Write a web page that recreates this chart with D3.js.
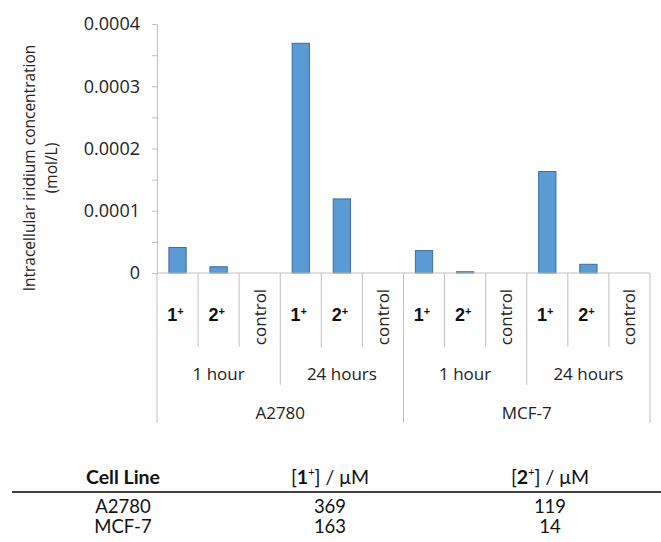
<!DOCTYPE html>
<html>
<head>
<meta charset="utf-8">
<script src="https://cdn.jsdelivr.net/npm/d3@7"></script>
<style>
  body { margin: 0; background: #fff; }
</style>
</head>
<body>
<script>
'use strict';

// chart data
const cellLines = ["A2780", "MCF-7"];
const times = ["1 hour", "24 hours"];
const compounds = ["1", "2", "control"];
const a2780Values = [4.1e-5, 1.0e-5, 0, 3.69e-4, 1.19e-4, 0];
const mcf7Values = [3.6e-5, 2e-6, 0, 1.63e-4, 1.4e-5, 0];
const yTicks = [0, 0.0001, 0.0002, 0.0003, 0.0004];

// table data
const tableHeaders = ["Cell Line", "1", "2"];
const tableCellLines = ["A2780", "MCF-7"];
const conc1 = [369, 163];
const conc2 = [119, 14];

const axisColor = "#bfbfbf";
const tickFont = "'Open Sans', sans-serif";

let svg = d3.select("body").append("svg")
  .attr("width", 661)
  .attr("height", 542);

// build flat list of bars
let rows = [];
cellLines.forEach((cl, ci) => {
  let vals = ci === 0 ? a2780Values : mcf7Values;
  times.forEach((t, ti) => {
    compounds.forEach((c, k) => {
      rows.push({ key: cl + "|" + t + "|" + c, cell: cl, time: t, comp: c, value: vals[ti * 3 + k] });
    });
  });
});

let axisY = 273;
let x = d3.scaleBand()
  .domain(rows.map(d => d.key))
  .range([157, 650]);

let bx = d3.scaleBand()
  .domain(rows.map(d => d.key))
  .range([157, 650])
  .paddingInner(0.58)
  .paddingOuter(0.29);

let y = d3.scaleLinear()
  .domain([0, 0.0004])
  .range([axisY, 24]);

// y axis with major and minor ticks
let minor = yTicks.slice(1).map(t => t - 0.00005);
svg.append("g")
  .attr("transform", "translate(157,0)")
  .call(d3.axisLeft(y).tickValues(minor).tickSize(5).tickFormat(""))
  .call(g => g.select(".domain").remove())
  .call(g => g.selectAll("line").attr("stroke", axisColor));

let yAxis = svg.append("g")
  .attr("transform", "translate(157,0)")
  .call(d3.axisLeft(y).tickValues(yTicks).tickSize(5).tickPadding(12)
    .tickFormat(d => d === 0 ? "0" : d3.format(".4f")(d)));
yAxis.select(".domain").attr("stroke", axisColor);
yAxis.selectAll("line").attr("stroke", axisColor);
yAxis.selectAll("text")
  .style("font-family", tickFont)
  .style("font-size", "18px")
  .attr("fill", "#222");

// bars
svg.selectAll(".bar")
  .data(rows)
  .enter()
  .append("rect")
    .attr("class", "bar")
    .attr("x", d => bx(d.key))
    .attr("width", bx.bandwidth())
    .attr("y", d => y(d.value))
    .attr("height", d => axisY - y(d.value))
    .attr("fill", "#5b9bd5")
    .attr("stroke", "#3b6c99")
    .attr("stroke-width", 1)
    .style("display", d => d.value > 0 ? null : "none");

// x axis line
svg.append("line")
  .attr("x1", 157).attr("x2", 650)
  .attr("y1", axisY).attr("y2", axisY)
  .attr("stroke", axisColor);

// category dividers: deeper for group edges
let step = x.step();
for (let i = 0; i <= rows.length; i++) {
  let xx = 157 + i * step;
  let bottom = 347;
  if (i % 6 === 0) bottom = 423;
  else if (i % 3 === 0) bottom = 385;
  svg.append("line")
    .attr("x1", xx).attr("x2", xx)
    .attr("y1", axisY).attr("y2", bottom)
    .attr("stroke", axisColor);
}

// compound labels
rows.forEach(d => {
  let cx = x(d.key) + x.bandwidth() / 2;
  if (d.comp === "control") {
    svg.append("text")
      .attr("transform", "translate(" + (cx + 6) + ",317)rotate(-90)")
      .attr("text-anchor", "middle")
      .style("font-family", tickFont)
      .style("font-size", "17px")
      .attr("fill", "#222")
      .text("control");
  } else {
    let t = svg.append("text")
      .attr("x", cx - 2)
      .attr("y", 321)
      .attr("text-anchor", "middle")
      .style("font-family", "'Liberation Sans', Arial, sans-serif")
      .style("font-size", "18px")
      .style("font-weight", "bold")
      .attr("fill", "#111");
    t.append("tspan").text(d.comp);
    t.append("tspan").attr("dy", -6).style("font-size", "11px").text("+");
  }
});

// time labels
cellLines.forEach((cl, ci) => {
  times.forEach((t, ti) => {
    let start = 157 + (ci * 6 + ti * 3) * step;
    svg.append("text")
      .attr("x", start + step * 1.5)
      .attr("y", 380)
      .attr("text-anchor", "middle")
      .style("font-family", tickFont)
      .style("font-size", "17px")
      .attr("fill", "#222")
      .text(t);
  });
  svg.append("text")
    .attr("x", 157 + (ci * 6 + 3) * step)
    .attr("y", 419)
    .attr("text-anchor", "middle")
    .style("font-family", tickFont)
    .style("font-size", "17px")
    .attr("fill", "#222")
    .text(cl);
});

// y axis title
let yTitle = svg.append("text")
  .attr("transform", "translate(35,168)rotate(-90)")
  .attr("text-anchor", "middle")
  .style("font-family", tickFont)
  .style("font-size", "15.5px")
  .attr("fill", "#222");
yTitle.append("tspan").attr("x", 0).attr("dy", 0).text("Intracellular iridium concentration");
yTitle.append("tspan").attr("x", 0).attr("dy", 22).text("(mol/L)");

// table below chart
let colX = [123, 330, 550];
let tableFont = "Lato, 'Open Sans', sans-serif";
tableHeaders.forEach((h, i) => {
  let t = svg.append("text")
    .attr("x", colX[i])
    .attr("y", 484)
    .attr("text-anchor", "middle")
    .style("font-family", tableFont)
    .style("font-size", "19.5px")
    .attr("fill", "#111");
  if (i === 0) {
    t.style("font-weight", "bold").text(h);
  } else {
    t.append("tspan").text("[");
    t.append("tspan").style("font-weight", "bold").text(h);
    t.append("tspan").attr("dy", -8).style("font-size", "11px").text("+");
    t.append("tspan").attr("dy", 8).text("] / \u03bcM");
  }
});

svg.append("line")
  .attr("x1", 12).attr("x2", 661)
  .attr("y1", 492).attr("y2", 492)
  .attr("stroke", "#000")
  .attr("stroke-width", 1.5);

tableCellLines.forEach((cl, i) => {
  let ty = 513 + i * 20;
  [cl, conc1[i], conc2[i]].forEach((v, j) => {
    svg.append("text")
      .attr("x", colX[j])
      .attr("y", ty)
      .attr("text-anchor", "middle")
      .style("font-family", tableFont)
      .style("font-size", "18.5px")
      .attr("fill", "#111")
      .text(v);
  });
});
</script>
</body>
</html>
